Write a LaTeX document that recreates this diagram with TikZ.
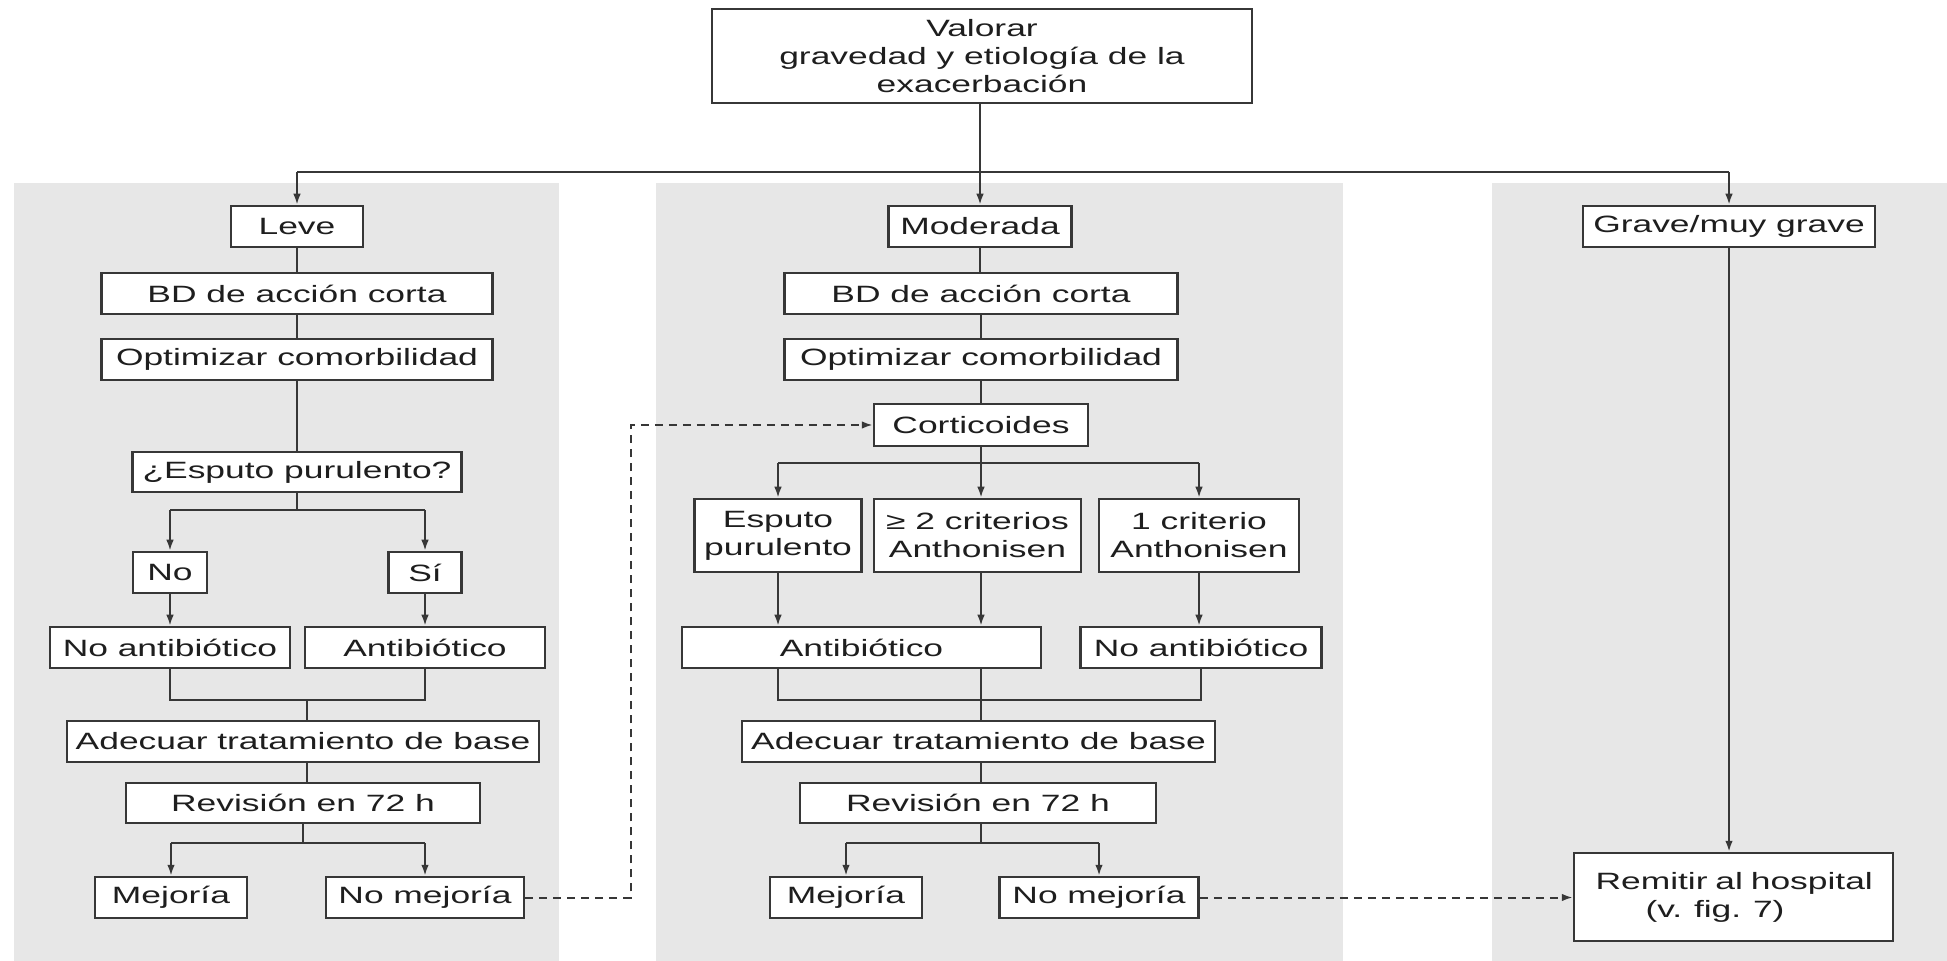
\documentclass[tikz,border=0pt]{standalone}
\usepackage{fontspec}
\setmainfont{Liberation Sans}[FakeStretch=1.5]
\usetikzlibrary{arrows.meta}
\definecolor{panel}{RGB}{231,231,231}
\definecolor{ink}{RGB}{55,55,55}
\definecolor{txt}{RGB}{30,30,30}
\tikzset{
  box/.style={draw=ink, fill=white, line width=1.25pt, inner sep=0pt,
    font=\fontsize{11.8}{14}\selectfont, text=txt, align=center,
    minimum height=20.5pt},
  link/.style={draw=ink, line width=1pt},
  arr/.style={link, -{Latex[length=5.5pt,width=3.8pt]}},
  dashline/.style={link, dash pattern=on 4pt off 3pt, -{Latex[length=5.5pt,width=3.8pt]}}
}
\begin{document}
\begin{tikzpicture}[x=0.5pt, y=-0.5pt]
\useasboundingbox (0,0) rectangle (1947,961);

% background panels
\fill[panel] (14,183) rectangle (559,961);
\fill[panel] (656,183) rectangle (1343,961);
\fill[panel] (1492,183) rectangle (1947,961);

% top box
\node[box, minimum width=270pt, minimum height=47pt] (top) at (982,56)
  {Valorar\\gravedad y etiología de la\\exacerbación};

% severity levels
\node[box, minimum width=66pt] (leve) at (297,226.5) {Leve};
\node[box, minimum width=91.5pt] (mod) at (980,226.5) {Moderada};
\node[box, minimum width=146pt] (grave) at (1729,226.5) {Grave/muy grave};

% mild branch
\node[box, minimum width=195.5pt] (bd1) at (297,293.5) {BD de acción corta};
\node[box, minimum width=195.5pt] (opt1) at (297,359.5) {Optimizar comorbilidad};
\node[box, minimum width=164.5pt, minimum height=20pt] (espq) at (297,472) {¿Esputo purulento?};
\node[box, minimum width=37pt] (no) at (170,572.5) {No};
\node[box, minimum width=36.5pt] (si) at (425,572.5) {Sí};
\node[box, minimum width=120pt] (noab1) at (170,647.5) {No antibiótico};
\node[box, minimum width=120pt] (ab1) at (425,647.5) {Antibiótico};
\node[box, minimum width=236pt] (adec1) at (303,741.5) {Adecuar tratamiento de base};
\node[box, minimum width=177pt, minimum height=20pt] (rev1) at (303,803) {Revisión en 72 h};
\node[box, minimum width=76pt] (mej1) at (171,897.5) {Mejoría};
\node[box, minimum width=99pt] (nomej1) at (425,897.5) {No mejoría};

% moderate branch
\node[box, minimum width=196.5pt] (bd2) at (981,293.5) {BD de acción corta};
\node[box, minimum width=196.5pt] (opt2) at (981,359.5) {Optimizar comorbilidad};
\node[box, minimum width=107pt, minimum height=21pt] (cort) at (981,425) {Corticoides};
\node[box, minimum width=83.5pt, minimum height=36.5pt] (esp2) at (778,535.5) {Esputo\\purulento};
\node[box, minimum width=103.5pt, minimum height=36.5pt] (crit2) at (977.5,535.5) {≥ 2 criterios\\Anthonisen};
\node[box, minimum width=100pt, minimum height=36.5pt] (crit1) at (1199,535.5) {1 criterio\\Anthonisen};
\node[box, minimum width=179.5pt] (ab2) at (861.5,647.5) {Antibiótico};
\node[box, minimum width=120.5pt] (noab2) at (1201,647.5) {No antibiótico};
\node[box, minimum width=236.5pt] (adec2) at (978.5,741.5) {Adecuar tratamiento de base};
\node[box, minimum width=178pt, minimum height=20pt] (rev2) at (978,803) {Revisión en 72 h};
\node[box, minimum width=76pt] (mej2) at (846,897.5) {Mejoría};
\node[box, minimum width=99.5pt] (nomej2) at (1099,897.5) {No mejoría};

% severe branch
\node[box, minimum width=159.5pt, minimum height=44pt, text width=150pt, align=left]
  (remit) at (1733.5,897) {\hspace*{6pt}Remitir al hospital\\\hspace*{31pt}(v. fig. 7)};

% routing points
\coordinate (hub) at (980,172);
\coordinate (s1) at (297,510);
\coordinate (m1) at (307,700);
\coordinate (s2) at (303,843);
\coordinate (s3) at (981,463);
\coordinate (m2) at (981,700);
\coordinate (s4) at (981,843);
\coordinate (d1) at (631,897.5);

% top split
\draw[link] (top.south -| hub) -- (hub);
\draw[link] (leve |- hub) -- (grave |- hub);
\draw[arr] (leve |- hub) -- (leve.north);
\draw[arr] (hub) -- (hub |- mod.north);
\draw[arr] (grave |- hub) -- (grave.north);

% mild flow
\draw[link] (leve.south) -- (leve.south |- bd1.north);
\draw[link] (bd1.south) -- (bd1.south |- opt1.north);
\draw[link] (opt1.south) -- (opt1.south |- espq.north);
\draw[link] (espq.south) -- (espq.south |- s1);
\draw[link] (no |- s1) -- (si |- s1);
\draw[arr] (no |- s1) -- (no.north);
\draw[arr] (si |- s1) -- (si.north);
\draw[arr] (no.south) -- (no.south |- noab1.north);
\draw[arr] (si.south) -- (si.south |- ab1.north);
\draw[link] (noab1.south) -- (noab1.south |- m1) -- (ab1.south |- m1) -- (ab1.south);
\draw[link] (m1) -- (m1 |- adec1.north);
\draw[link] (m1 |- adec1.south) -- (m1 |- rev1.north);
\draw[link] (rev1.south) -- (rev1.south |- s2);
\draw[link] (mej1 |- s2) -- (nomej1 |- s2);
\draw[arr] (mej1 |- s2) -- (mej1.north);
\draw[arr] (nomej1 |- s2) -- (nomej1.north);

% moderate flow
\draw[link] (mod.south -| hub) -- (hub |- bd2.north);
\draw[link] (bd2.south -| s3) -- (s3 |- opt2.north);
\draw[link] (opt2.south -| s3) -- (s3 |- cort.north);
\draw[link] (cort.south -| s3) -- (s3);
\draw[link] (esp2 |- s3) -- (crit1 |- s3);
\draw[arr] (esp2 |- s3) -- (esp2.north);
\draw[arr] (s3) -- (s3 |- crit2.north);
\draw[arr] (crit1 |- s3) -- (crit1.north);
\draw[arr] (esp2.south) -- (esp2.south |- ab2.north);
\draw[arr] (s3 |- crit2.south) -- (s3 |- ab2.north);
\draw[arr] (crit1.south) -- (crit1.south |- noab2.north);
\draw[link] (esp2 |- ab2.south) -- (esp2 |- m2) -- (noab2 |- m2) -- (noab2.south);
\draw[link] (m2 |- ab2.south) -- (m2 |- adec2.north);
\draw[link] (m2 |- adec2.south) -- (m2 |- rev2.north);
\draw[link] (m2 |- rev2.south) -- (s4);
\draw[link] (mej2 |- s4) -- (nomej2 |- s4);
\draw[arr] (mej2 |- s4) -- (mej2.north);
\draw[arr] (nomej2 |- s4) -- (nomej2.north);

% severe flow
\draw[arr] (grave.south) -- (grave.south |- remit.north);

% no improvement paths
\draw[dashline] (nomej1.east) -- (d1) -- (d1 |- cort.west) -- (cort.west);
\draw[dashline] (nomej2.east) -- (remit.west |- nomej2.east);
\end{tikzpicture}
\end{document}
